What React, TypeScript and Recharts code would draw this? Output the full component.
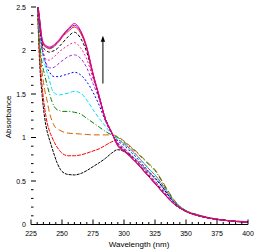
import React from 'react';
import { LineChart, Line, XAxis, YAxis, ReferenceLine } from 'recharts';

const wavelengths = [230, 232, 234, 236, 238, 240, 242, 244, 246, 248, 250, 255, 260, 265, 270, 275, 280, 285, 290, 295, 300, 305, 310, 315, 320, 325, 330, 335, 340, 345, 350, 360, 370, 380, 390, 400];

const black1 = [2.6, 1.85, 1.48, 1.23, 1.07, 0.97, 0.88, 0.79, 0.71, 0.65, 0.61, 0.575, 0.57, 0.585, 0.62, 0.665, 0.71, 0.76, 0.82, 0.86, 0.84, 0.8, 0.74, 0.67, 0.6, 0.53, 0.45, 0.35, 0.26, 0.2, 0.155, 0.105, 0.072, 0.051, 0.037, 0.03];
const red1 = [2.6, 1.95, 1.58, 1.34, 1.17, 1.07, 1.0, 0.94, 0.89, 0.85, 0.82, 0.79, 0.79, 0.8, 0.82, 0.845, 0.87, 0.91, 0.95, 0.97, 0.93, 0.87, 0.8, 0.72, 0.64, 0.57, 0.48, 0.37, 0.27, 0.2, 0.155, 0.107, 0.073, 0.052, 0.038, 0.031];
const orange = [2.6, 2.05, 1.75, 1.55, 1.42, 1.28, 1.19, 1.13, 1.1, 1.085, 1.07, 1.05, 1.045, 1.04, 1.035, 1.03, 1.03, 1.03, 1.03, 1.01, 0.96, 0.9, 0.84, 0.77, 0.7, 0.63, 0.52, 0.4, 0.29, 0.21, 0.16, 0.11, 0.075, 0.053, 0.04, 0.032];
const green = [2.6, 2.1, 1.85, 1.72, 1.6, 1.5, 1.41, 1.35, 1.32, 1.31, 1.3, 1.3, 1.29, 1.27, 1.22, 1.17, 1.12, 1.07, 1.03, 1.0, 0.95, 0.89, 0.83, 0.76, 0.69, 0.62, 0.51, 0.39, 0.28, 0.21, 0.16, 0.11, 0.074, 0.053, 0.04, 0.032];
const cyan = [2.6, 2.2, 1.98, 1.85, 1.75, 1.65, 1.55, 1.51, 1.495, 1.49, 1.495, 1.51, 1.53, 1.51, 1.43, 1.32, 1.22, 1.13, 1.04, 0.98, 0.93, 0.86, 0.79, 0.72, 0.64, 0.57, 0.47, 0.37, 0.27, 0.2, 0.155, 0.106, 0.072, 0.051, 0.037, 0.03];
const blue = [2.6, 2.25, 2.02, 1.9, 1.8, 1.75, 1.71, 1.7, 1.7, 1.7, 1.71, 1.73, 1.75, 1.72, 1.64, 1.52, 1.37, 1.19, 1.05, 0.96, 0.91, 0.84, 0.77, 0.69, 0.61, 0.54, 0.45, 0.35, 0.26, 0.195, 0.152, 0.104, 0.071, 0.05, 0.036, 0.03];
const purple = [2.6, 2.28, 2.03, 1.9, 1.83, 1.8, 1.8, 1.81, 1.83, 1.86, 1.88, 1.93, 1.95, 1.91, 1.8, 1.62, 1.44, 1.2, 1.05, 0.94, 0.88, 0.81, 0.74, 0.66, 0.58, 0.5, 0.42, 0.33, 0.25, 0.19, 0.15, 0.103, 0.07, 0.05, 0.036, 0.029];
const pink = [2.6, 2.3, 2.05, 1.93, 1.89, 1.89, 1.91, 1.93, 1.96, 1.99, 2.01, 2.06, 2.09, 2.03, 1.9, 1.68, 1.46, 1.2, 1.05, 0.93, 0.87, 0.8, 0.73, 0.65, 0.57, 0.49, 0.41, 0.32, 0.245, 0.19, 0.15, 0.102, 0.07, 0.05, 0.035, 0.029];
const black2 = [2.6, 2.32, 2.08, 2.01, 1.99, 1.98, 1.99, 2.0, 2.02, 2.05, 2.08, 2.16, 2.21, 2.14, 1.98, 1.72, 1.46, 1.22, 1.06, 0.92, 0.86, 0.79, 0.72, 0.64, 0.56, 0.48, 0.4, 0.315, 0.24, 0.19, 0.15, 0.1, 0.07, 0.05, 0.035, 0.028];
const red2 = [2.6, 2.34, 2.11, 2.05, 2.03, 2.02, 2.03, 2.05, 2.08, 2.11, 2.15, 2.22, 2.27, 2.2, 2.02, 1.72, 1.47, 1.21, 1.06, 0.91, 0.85, 0.78, 0.71, 0.63, 0.55, 0.47, 0.39, 0.31, 0.24, 0.19, 0.15, 0.1, 0.07, 0.05, 0.035, 0.028];
const blue2 = [2.6, 2.35, 2.12, 2.06, 2.04, 2.03, 2.04, 2.06, 2.09, 2.12, 2.16, 2.24, 2.29, 2.22, 2.03, 1.73, 1.47, 1.21, 1.06, 0.91, 0.85, 0.78, 0.71, 0.63, 0.55, 0.47, 0.39, 0.31, 0.24, 0.19, 0.15, 0.1, 0.07, 0.05, 0.035, 0.028];
const magenta2 = [2.6, 2.36, 2.13, 2.07, 2.05, 2.04, 2.05, 2.07, 2.1, 2.13, 2.17, 2.25, 2.31, 2.23, 2.04, 1.74, 1.48, 1.21, 1.06, 0.9, 0.84, 0.78, 0.71, 0.63, 0.55, 0.47, 0.39, 0.31, 0.24, 0.19, 0.15, 0.1, 0.07, 0.05, 0.035, 0.028];

const xMajorTicks = [225, 250, 275, 300, 325, 350, 375, 400];
const xAllTicks = [225, 230, 235, 240, 245, 250, 255, 260, 265, 270, 275, 280, 285, 290, 295, 300, 305, 310, 315, 320, 325, 330, 335, 340, 345, 350, 355, 360, 365, 370, 375, 380, 385, 390, 395, 400];
const yMajorTicks = [0, 0.5, 1, 1.5, 2, 2.5];
const yAllTicks = [0, 0.1, 0.2, 0.3, 0.4, 0.5, 0.6, 0.7, 0.8, 0.9, 1, 1.1, 1.2, 1.3, 1.4, 1.5, 1.6, 1.7, 1.8, 1.9, 2, 2.1, 2.2, 2.3, 2.4, 2.5];
const yTickLabels = ['0', '0.5', '1', '1.5', '2', '2.5'];

const arrowFrom = { x: 283, y: 1.62 };
const arrowTo = { x: 283, y: 2.17 };

const seriesDefs = [
  { key: 'black1', values: black1, color: '#000000', dash: '3 1' },
  { key: 'red1', values: red1, color: '#ff0000', dash: '4 1' },
  { key: 'orange', values: orange, color: '#cc6600', dash: '6 3' },
  { key: 'green', values: green, color: '#008000', dash: '5 2 1 2' },
  { key: 'cyan', values: cyan, color: '#00e0ff', dash: '4 2' },
  { key: 'blue', values: blue, color: '#0000ff', dash: '2 2' },
  { key: 'purple', values: purple, color: '#9933dd', dash: '3 2' },
  { key: 'pink', values: pink, color: '#ff2288', dash: '2 2' },
  { key: 'black2', values: black2, color: '#000000', dash: '3 2' },
  { key: 'red2', values: red2, color: '#ff0000', dash: undefined },
  { key: 'blue2', values: blue2, color: '#5522ff', dash: undefined },
  { key: 'magenta2', values: magenta2, color: '#ff0066', dash: undefined },
];

const rows = wavelengths.map((w, i) => {
  const r: Record<string, number> = { w };
  seriesDefs.forEach((s) => {
    r[s.key] = s.values[i];
  });
  return r;
});

const FONT = 'Liberation Sans, Arial, sans-serif';

const BottomTick = (props: any) => {
  const { x, y, payload } = props;
  const major = xMajorTicks.includes(payload.value);
  return (
    <g>
      <line x1={x} y1={y} x2={x} y2={y - (major ? 5 : 2.5)} stroke="#000" strokeWidth={1} />
      {major && (
        <text x={x} y={y + 11.2} textAnchor="middle" fontSize={7} fontFamily={FONT} fill="#000">
          {payload.value}
        </text>
      )}
    </g>
  );
};

const TopTick = (props: any) => {
  const { x, y, payload } = props;
  const major = xMajorTicks.includes(payload.value);
  return <line x1={x} y1={y} x2={x} y2={y + (major ? 5 : 2.5)} stroke="#000" strokeWidth={1} />;
};

const LeftTick = (props: any) => {
  const { x, y, payload } = props;
  const idx = yMajorTicks.indexOf(payload.value);
  const major = idx >= 0;
  return (
    <g>
      <line x1={x} y1={y} x2={x + (major ? 5 : 2.5)} y2={y} stroke="#000" strokeWidth={1} />
      {major && (
        <text x={x - 5} y={y + 2.5} textAnchor="end" fontSize={7} fontFamily={FONT} fill="#000">
          {yTickLabels[idx]}
        </text>
      )}
    </g>
  );
};

const RightTick = (props: any) => {
  const { x, y, payload } = props;
  const major = yMajorTicks.includes(payload.value);
  return <line x1={x} y1={y} x2={x - (major ? 5 : 2.5)} y2={y} stroke="#000" strokeWidth={1} />;
};

const ArrowShape = (props: any) => {
  const { x1, y1, x2, y2 } = props;
  return (
    <g>
      <line x1={x1} y1={y1} x2={x2} y2={y2 + 4} stroke="#000" strokeWidth={1} />
      <polygon points={`${x2},${y2} ${x2 - 2.2},${y2 + 6} ${x2 + 2.2},${y2 + 6}`} fill="#000" />
    </g>
  );
};

export default function App() {
  return (
    <div style={{ position: 'absolute', left: 0, top: 0, width: 258, height: 252, background: '#fff' }}>
      <LineChart width={258} height={252} data={rows} margin={{ top: 7, right: 10, bottom: 0, left: 0 }}>
        <XAxis
          dataKey="w"
          type="number"
          domain={[225, 400]}
          ticks={xAllTicks}
          interval={0}
          tickSize={0}
          tickMargin={0}
          tickLine={false}
          height={27.5}
          axisLine={{ stroke: '#000', strokeWidth: 1 }}
          tick={<BottomTick />}
          allowDataOverflow
        />
        <XAxis
          xAxisId="top"
          orientation="top"
          dataKey="w"
          type="number"
          domain={[225, 400]}
          ticks={xAllTicks}
          interval={0}
          tickSize={0}
          tickMargin={0}
          tickLine={false}
          height={0}
          axisLine={{ stroke: '#000', strokeWidth: 1 }}
          tick={<TopTick />}
          allowDataOverflow
        />
        <YAxis
          type="number"
          domain={[0, 2.5]}
          ticks={yAllTicks}
          interval={0}
          tickSize={0}
          tickMargin={0}
          tickLine={false}
          width={31}
          axisLine={false}
          tick={<LeftTick />}
          allowDataOverflow
        />
        <YAxis
          yAxisId="right"
          orientation="right"
          type="number"
          domain={[0, 2.5]}
          ticks={yAllTicks}
          interval={0}
          tickSize={0}
          tickMargin={0}
          tickLine={false}
          width={0}
          axisLine={{ stroke: '#000', strokeWidth: 1 }}
          tick={<RightTick />}
          allowDataOverflow
        />
        {seriesDefs.map((s) => (
          <Line
            key={s.key}
            dataKey={s.key}
            type="monotone"
            stroke={s.color}
            strokeWidth={1}
            strokeDasharray={s.dash}
            dot={false}
            activeDot={false}
            isAnimationActive={false}
          />
        ))}
        <ReferenceLine segment={[arrowFrom, arrowTo]} shape={ArrowShape} ifOverflow="visible" />
      </LineChart>
      <svg width={258} height={252} style={{ position: 'absolute', left: 0, top: 0, pointerEvents: 'none' }}>
        <text x={139} y={246.5} textAnchor="middle" fontSize={8} fontFamily={FONT} fill="#000">
          Wavelength (nm)
        </text>
        <text
          x={10.5}
          y={117}
          textAnchor="middle"
          fontSize={8}
          fontFamily={FONT}
          fill="#000"
          transform="rotate(-90 10.5 117)"
        >
          Absorbance
        </text>
      </svg>
    </div>
  );
}
